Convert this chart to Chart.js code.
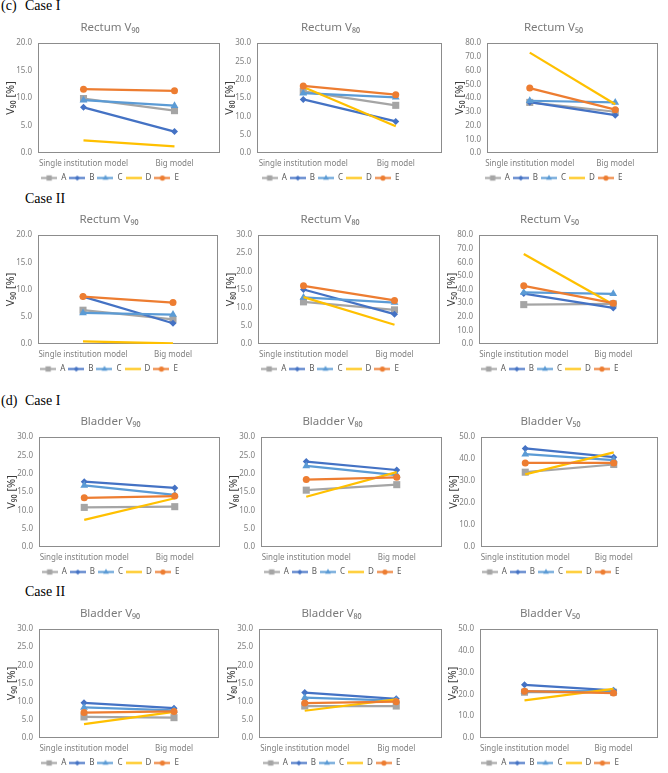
<!DOCTYPE html>
<html>
<head>
<meta charset="utf-8">
<script src="https://cdn.jsdelivr.net/npm/chart.js@4.4.1/dist/chart.umd.min.js"></script>
<style>
body{margin:0;background:#fff;width:668px;height:773px;position:relative;overflow:hidden;font-family:"Noto Sans",sans-serif}
.hdr{position:absolute;font-family:"Liberation Serif","Times New Roman",serif;font-size:14px;line-height:16px;color:#000;white-space:pre}
canvas{position:absolute}
</style>
</head>
<body>
<div class="hdr" style="left:1px;top:-2px">(c)</div>
<div class="hdr" style="left:25px;top:-2px">Case I</div>
<div class="hdr" style="left:25px;top:191px">Case II</div>
<div class="hdr" style="left:1px;top:393px">(d)</div>
<div class="hdr" style="left:25px;top:393px">Case I</div>
<div class="hdr" style="left:25px;top:584px">Case II</div>

<script>
// DATA
const categories = ['Single institution model', 'Big model'];
const seriesNames = ['A', 'B', 'C', 'D', 'E'];

// each row = one series (A..E): [single institution, big model]
const rectumV90CaseI = [[9.9, 7.7], [8.3, 3.9], [9.6, 8.6], [2.3, 1.2], [11.6, 11.3]];
const rectumV80CaseI = [[16.8, 13.0], [14.6, 8.6], [16.3, 15.2], [18.0, 7.3], [18.3, 15.9]];
const rectumV50CaseI = [[36.8, 30.0], [37.0, 27.5], [38.0, 36.8], [73.0, 35.5], [47.2, 31.5]];
const rectumV90CaseII = [[6.2, 4.5], [8.7, 3.8], [5.7, 5.4], [0.5, 0.1], [8.7, 7.6]];
const rectumV80CaseII = [[11.6, 9.4], [15.0, 8.2], [12.8, 11.4], [12.9, 5.3], [16.0, 12.0]];
const rectumV50CaseII = [[28.9, 29.5], [37.0, 26.5], [37.8, 36.8], [66.0, 29.0], [42.7, 30.0]];
const bladderV90CaseI = [[10.8, 11.0], [17.8, 16.1], [16.8, 14.2], [7.4, 13.3], [13.4, 13.9]];
const bladderV80CaseI = [[15.5, 17.0], [23.3, 21.0], [22.1, 19.6], [13.7, 20.4], [18.4, 19.0]];
const bladderV50CaseI = [[34.0, 37.5], [44.8, 40.8], [42.2, 39.5], [33.0, 43.0], [38.2, 38.2]];
const bladderV90CaseII = [[5.8, 5.6], [9.7, 8.2], [8.4, 7.6], [3.8, 7.2], [7.0, 7.3]];
const bladderV80CaseII = [[8.8, 8.8], [12.5, 10.8], [11.1, 10.3], [7.5, 10.6], [9.6, 10.0]];
const bladderV50CaseII = [[21.0, 21.0], [24.4, 21.9], [21.4, 21.5], [17.3, 22.5], [21.5, 20.6]];

const panelTitles = ['Rectum V₉₀', 'Rectum V₈₀', 'Rectum V₅₀', 'Rectum V₉₀', 'Rectum V₈₀', 'Rectum V₅₀',
                     'Bladder V₉₀', 'Bladder V₈₀', 'Bladder V₅₀', 'Bladder V₉₀', 'Bladder V₈₀', 'Bladder V₅₀'];
const axisTitles = ['V₉₀ [%]', 'V₈₀ [%]', 'V₅₀ [%]', 'V₉₀ [%]', 'V₈₀ [%]', 'V₅₀ [%]',
                    'V₉₀ [%]', 'V₈₀ [%]', 'V₅₀ [%]', 'V₉₀ [%]', 'V₈₀ [%]', 'V₅₀ [%]'];
const yMax = [20, 30, 80, 20, 30, 80, 30, 30, 50, 30, 30, 50];
const yStep = [5, 5, 10, 5, 5, 10, 5, 5, 10, 5, 5, 10];

const panelData = [rectumV90CaseI, rectumV80CaseI, rectumV50CaseI,
                   rectumV90CaseII, rectumV80CaseII, rectumV50CaseII,
                   bladderV90CaseI, bladderV80CaseI, bladderV50CaseI,
                   bladderV90CaseII, bladderV80CaseII, bladderV50CaseII];

// STYLE / LAYOUT
const colors = ['#A5A5A5', '#4472C4', '#5B9BD5', '#FFC000', '#ED7D31'];
const markers = ['rect', 'rectRot', 'triangle', 'circle', 'circle'];
const radii = [5, 3.5, 4.5, 0, 3.5];

// plot area boxes: left, top, right, bottom
const plotBoxes = [
    [38, 43, 220, 153], [257, 43, 442, 153], [487, 43, 658, 153],
    [38, 235, 218, 344], [258, 235, 440, 344], [479, 235, 658, 344],
    [39, 437, 220, 547], [261, 437, 442, 547], [481, 437, 658, 547],
    [39, 629, 219, 738], [259, 629, 442, 738], [480, 629, 658, 738]
];
const legendCenters = [120, 340, 560];

const Y_W = 38, TITLE_H = 27, XAX_H = 18, LEG_H = 21;

function legendIcon(i){
    const c = document.createElement('canvas');
    c.width = 16; c.height = 9;
    const ctx = c.getContext('2d');
    ctx.strokeStyle = colors[i];
    ctx.lineWidth = 2;
    ctx.beginPath();
    ctx.moveTo(0, 4.5);
    ctx.lineTo(16, 4.5);
    ctx.stroke();
    if(radii[i] > 0){
        ctx.fillStyle = colors[i];
        Chart.helpers.drawPoint(ctx, {pointStyle: markers[i], radius: radii[i] * 0.75, rotation: 0, borderWidth: 0}, 8, 4.5);
    }
    return c;
}

const frame = {
    id: 'frame',
    beforeDatasetsDraw(chart){
        const {ctx, chartArea: a} = chart;
        ctx.save();
        ctx.strokeStyle = '#8c8c8c';
        ctx.lineWidth = 1;
        ctx.strokeRect(Math.round(a.left) + 0.5, Math.round(a.top) + 0.5,
                       Math.round(a.right - a.left) - 1, Math.round(a.bottom - a.top) - 1);
        ctx.restore();
    }
};

const icons = seriesNames.map((n, i) => legendIcon(i));

panelData.forEach((values, idx) => {
    const [pl, pt, pr, pb] = plotBoxes[idx];
    const left = pl - Y_W;
    const lc = legendCenters[idx % 3];
    let padR = 2 * lc - left - pr;
    if(padR < 2) padR = 2;
    const w = pr + padR - left;
    const top = pt - TITLE_H;
    const h = TITLE_H + (pb - pt) + XAX_H + LEG_H;

    const canvas = document.createElement('canvas');
    canvas.width = w; canvas.height = h;
    canvas.style.left = left + 'px';
    canvas.style.top = top + 'px';
    canvas.style.width = w + 'px';
    canvas.style.height = h + 'px';
    document.body.appendChild(canvas);

    const datasets = values.map((v, i) => ({
        label: seriesNames[i],
        data: v,
        borderColor: colors[i],
        backgroundColor: colors[i],
        borderWidth: 2.25,
        pointStyle: markers[i],
        pointRadius: radii[i],
        pointHoverRadius: radii[i],
        pointBorderWidth: 0,
        order: 4 - i
    }));

    new Chart(canvas.getContext('2d'), {
        type: 'line',
        data: {labels: categories, datasets: datasets},
        options: {
            responsive: false,
            animation: false,
            layout: {padding: {left: 0, right: padR, top: 0, bottom: 0}},
            plugins: {
                title: {
                    display: true,
                    text: panelTitles[idx],
                    color: '#7a7a7a',
                    font: {family: '"Noto Sans", "DejaVu Sans", sans-serif', size: 11.5, weight: 'normal'},
                    padding: {top: 5.2, bottom: 8}
                },
                legend: {
                    position: 'bottom',
                    labels: {
                        usePointStyle: true,
                        pointStyleWidth: 16,
                        boxHeight: 8,
                        padding: 3,
                        color: '#595959',
                        font: {family: '"Noto Sans", sans-serif', size: 8},
                        sort: (a, b) => a.datasetIndex - b.datasetIndex,
                        generateLabels(chart){
                            const items = Chart.defaults.plugins.legend.labels.generateLabels(chart);
                            items.forEach(it => { it.pointStyle = icons[it.datasetIndex]; });
                            return items;
                        }
                    }
                },
                tooltip: {enabled: false}
            },
            scales: {
                x: {
                    offset: true,
                    grid: {display: false, drawTicks: false},
                    border: {display: false},
                    ticks: {
                        color: '#808080',
                        font: {family: '"Noto Sans", sans-serif', size: 8},
                        maxRotation: 0,
                        autoSkip: false,
                        padding: 6
                    },
                    afterFit(s){ s.height = XAX_H; }
                },
                y: {
                    min: 0,
                    max: yMax[idx],
                    grid: {display: false, drawTicks: false},
                    border: {display: false},
                    ticks: {
                        stepSize: yStep[idx],
                        color: '#808080',
                        font: {family: '"Noto Sans", sans-serif', size: 8},
                        padding: 6,
                        callback: v => Number(v).toFixed(1)
                    },
                    title: {
                        display: true,
                        text: axisTitles[idx],
                        color: '#3a3a3a',
                        font: {family: '"Noto Sans", "DejaVu Sans", sans-serif', size: 11},
                        padding: {top: 4, bottom: 0}
                    },
                    afterFit(s){ s.width = Y_W; }
                }
            }
        },
        plugins: [frame]
    });
});
</script>
</body>
</html>
